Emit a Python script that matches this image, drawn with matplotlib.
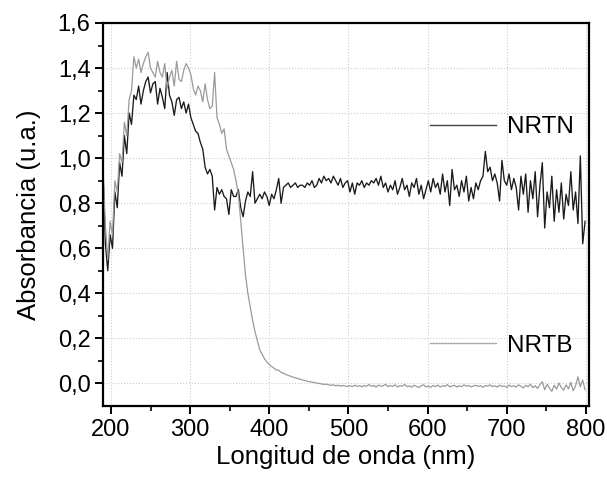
import numpy as np
import matplotlib
matplotlib.use("Agg")
import matplotlib.pyplot as plt
from matplotlib.lines import Line2D

plt.rcParams['font.family'] = ['Liberation Sans', 'DejaVu Sans']

# absorbancia, paso de 3 nm desde 190 nm
nrtn = [0.95, 0.62, 0.50, 0.66, 0.60, 0.85, 0.78, 0.98, 0.92, 1.10,
        1.02, 1.20, 1.15, 1.28, 1.26, 1.32, 1.24, 1.30, 1.34, 1.36,
        1.29, 1.33, 1.34, 1.24, 1.31, 1.27, 1.22, 1.38, 1.28, 1.25,
        1.19, 1.26, 1.27, 1.22, 1.25, 1.20, 1.24, 1.18, 1.15, 1.12,
        1.11, 1.07, 1.04, 0.96, 0.93, 0.95, 0.92, 0.77, 0.87, 0.84,
        0.86, 0.83, 0.82, 0.75, 0.86, 0.83, 0.83, 0.86, 0.78, 0.74,
        0.81, 0.85, 0.83, 0.94, 0.80, 0.82, 0.84, 0.82, 0.85, 0.83,
        0.79, 0.84, 0.82, 0.86, 0.91, 0.80, 0.87, 0.88, 0.89, 0.87,
        0.88, 0.89, 0.87, 0.88, 0.88, 0.87, 0.89, 0.88, 0.90, 0.87,
        0.88, 0.91, 0.89, 0.92, 0.90, 0.91, 0.89, 0.92, 0.90, 0.88,
        0.91, 0.87, 0.89, 0.90, 0.85, 0.89, 0.84, 0.89, 0.88, 0.90,
        0.87, 0.89, 0.88, 0.90, 0.89, 0.91, 0.88, 0.92, 0.87, 0.89,
        0.85, 0.88, 0.86, 0.90, 0.84, 0.87, 0.91, 0.86, 0.88, 0.83,
        0.89, 0.87, 0.91, 0.84, 0.88, 0.82, 0.86, 0.90, 0.85, 0.91,
        0.87, 0.89, 0.84, 0.93, 0.85, 0.90, 0.79, 0.95, 0.86, 0.88,
        0.83, 0.90, 0.85, 0.92, 0.81, 0.87, 0.82, 0.89, 0.86, 0.90,
        0.92, 1.03, 0.94, 0.96, 0.90, 0.93, 0.89, 0.81, 0.99, 0.90,
        0.88, 0.93, 0.86, 0.91, 0.87, 0.77, 0.92, 0.84, 0.93, 0.76,
        0.90, 0.82, 0.94, 0.74, 0.88, 0.98, 0.69, 0.85, 0.78, 0.92,
        0.72, 0.86, 0.76, 0.89, 0.73, 0.84, 0.79, 0.94, 0.77, 0.85,
        0.71, 1.01, 0.62, 0.72]

nrtb = [0.95, 0.70, 0.55, 0.72, 0.66, 0.90, 0.85, 1.02, 0.98, 1.16,
        1.10, 1.26, 1.30, 1.45, 1.40, 1.44, 1.38, 1.42, 1.45, 1.47,
        1.40, 1.38, 1.36, 1.43, 1.38, 1.36, 1.42, 1.31, 1.36, 1.39,
        1.32, 1.43, 1.35, 1.34, 1.39, 1.42, 1.40, 1.37, 1.31, 1.28,
        1.32, 1.30, 1.25, 1.33, 1.26, 1.22, 1.23, 1.38, 1.18, 1.15,
        1.11, 1.13, 1.04, 1.01, 0.98, 0.95, 0.90, 0.84, 0.72, 0.60,
        0.48, 0.40, 0.34, 0.28, 0.23, 0.19, 0.15, 0.13, 0.11, 0.095,
        0.085, 0.075, 0.068, 0.060, 0.058, 0.050, 0.045, 0.040, 0.036, 0.032,
        0.028, 0.025, 0.022, 0.019, 0.016, 0.013, 0.010, 0.008, 0.006, 0.004,
        0.002, 0.000, -0.002, -0.004, -0.003, -0.006, -0.008, -0.006, -0.010, -0.008,
        -0.012, -0.009, -0.011, -0.013, -0.010, -0.014, -0.008, -0.012, -0.010, -0.015,
        -0.009, -0.012, -0.005, -0.013, -0.009, -0.016, -0.007, -0.012, -0.010, -0.004,
        -0.014, -0.009, -0.013, -0.006, -0.015, -0.010, -0.012, -0.004, -0.014, -0.011,
        -0.016, -0.008, -0.013, -0.018, -0.010, -0.006, -0.015, -0.011, -0.017, -0.009,
        -0.014, -0.007, -0.016, -0.010, -0.013, -0.005, -0.015, -0.011, -0.008, -0.016,
        -0.010, -0.014, -0.006, -0.012, -0.009, -0.015, -0.011, -0.008, -0.013, -0.010,
        -0.017, -0.009, -0.012, -0.006, -0.014, -0.010, -0.016, -0.008, -0.013, -0.011,
        -0.018, -0.007, -0.014, -0.010, -0.016, -0.006, -0.013, -0.020, -0.008, -0.015,
        -0.003, -0.019, -0.010, -0.022, -0.005, 0.008, -0.028, -0.004, -0.020, -0.035,
        -0.008, -0.025, 0.002, -0.018, -0.030, -0.006, -0.024, 0.005, -0.032, -0.010,
        0.030, -0.015, 0.015, -0.028]

wl_nrtn = 190 + 3 * np.arange(len(nrtn))
wl_nrtb = 190 + 3 * np.arange(len(nrtb))

xticks = [200, 300, 400, 500, 600, 700, 800]
yticks = [0.0, 0.2, 0.4, 0.6, 0.8, 1.0, 1.2, 1.4, 1.6]
ytick_labels = ['0,0', '0,2', '0,4', '0,6', '0,8', '1,0', '1,2', '1,4', '1,6']

fig = plt.figure(figsize=(6.07, 4.83), dpi=100)
ax = fig.add_axes([0.1697, 0.1594, 0.8007, 0.793])

ax.plot(wl_nrtn, nrtn, color='#1a1a1a', lw=0.95)
ax.plot(wl_nrtb, nrtb, color='#9a9a9a', lw=0.9)

ax.set_xlim(190, 804)
ax.set_ylim(-0.1, 1.6)
ax.set_xticks(xticks)
ax.set_xticks(np.arange(250, 800, 100), minor=True)
ax.set_yticks(yticks)
ax.set_yticklabels(ytick_labels)
ax.set_yticks(np.arange(0.1, 1.6, 0.2), minor=True)

ax.grid(True, which='major', linestyle=':', color='#cccccc', lw=0.8)
ax.tick_params(which='major', direction='out', length=6, width=1.4, labelsize=17, pad=3)
ax.tick_params(which='minor', direction='out', length=3.5, width=1.2)
for s in ax.spines.values():
    s.set_linewidth(1.6)

ax.set_xlabel('Longitud de onda (nm)', fontsize=18.5, labelpad=3)
ax.set_ylabel('Absorbancia (u.a.)', fontsize=18.5, labelpad=12)

h1 = Line2D([], [], color='#444444', lw=1.0)
h2 = Line2D([], [], color='#aaaaaa', lw=1.0)
leg1 = ax.legend([h1], ['NRTN'], loc='center left', bbox_to_anchor=(0.673, 0.728),
                 frameon=False, fontsize=17.5, handlelength=2.7, handletextpad=0.45,
                 borderpad=0, borderaxespad=0)
ax.add_artist(leg1)
ax.legend([h2], ['NRTB'], loc='center left', bbox_to_anchor=(0.673, 0.157),
          frameon=False, fontsize=17.5, handlelength=2.7, handletextpad=0.45,
          borderpad=0, borderaxespad=0)

fig.savefig('out.png', dpi=100)
